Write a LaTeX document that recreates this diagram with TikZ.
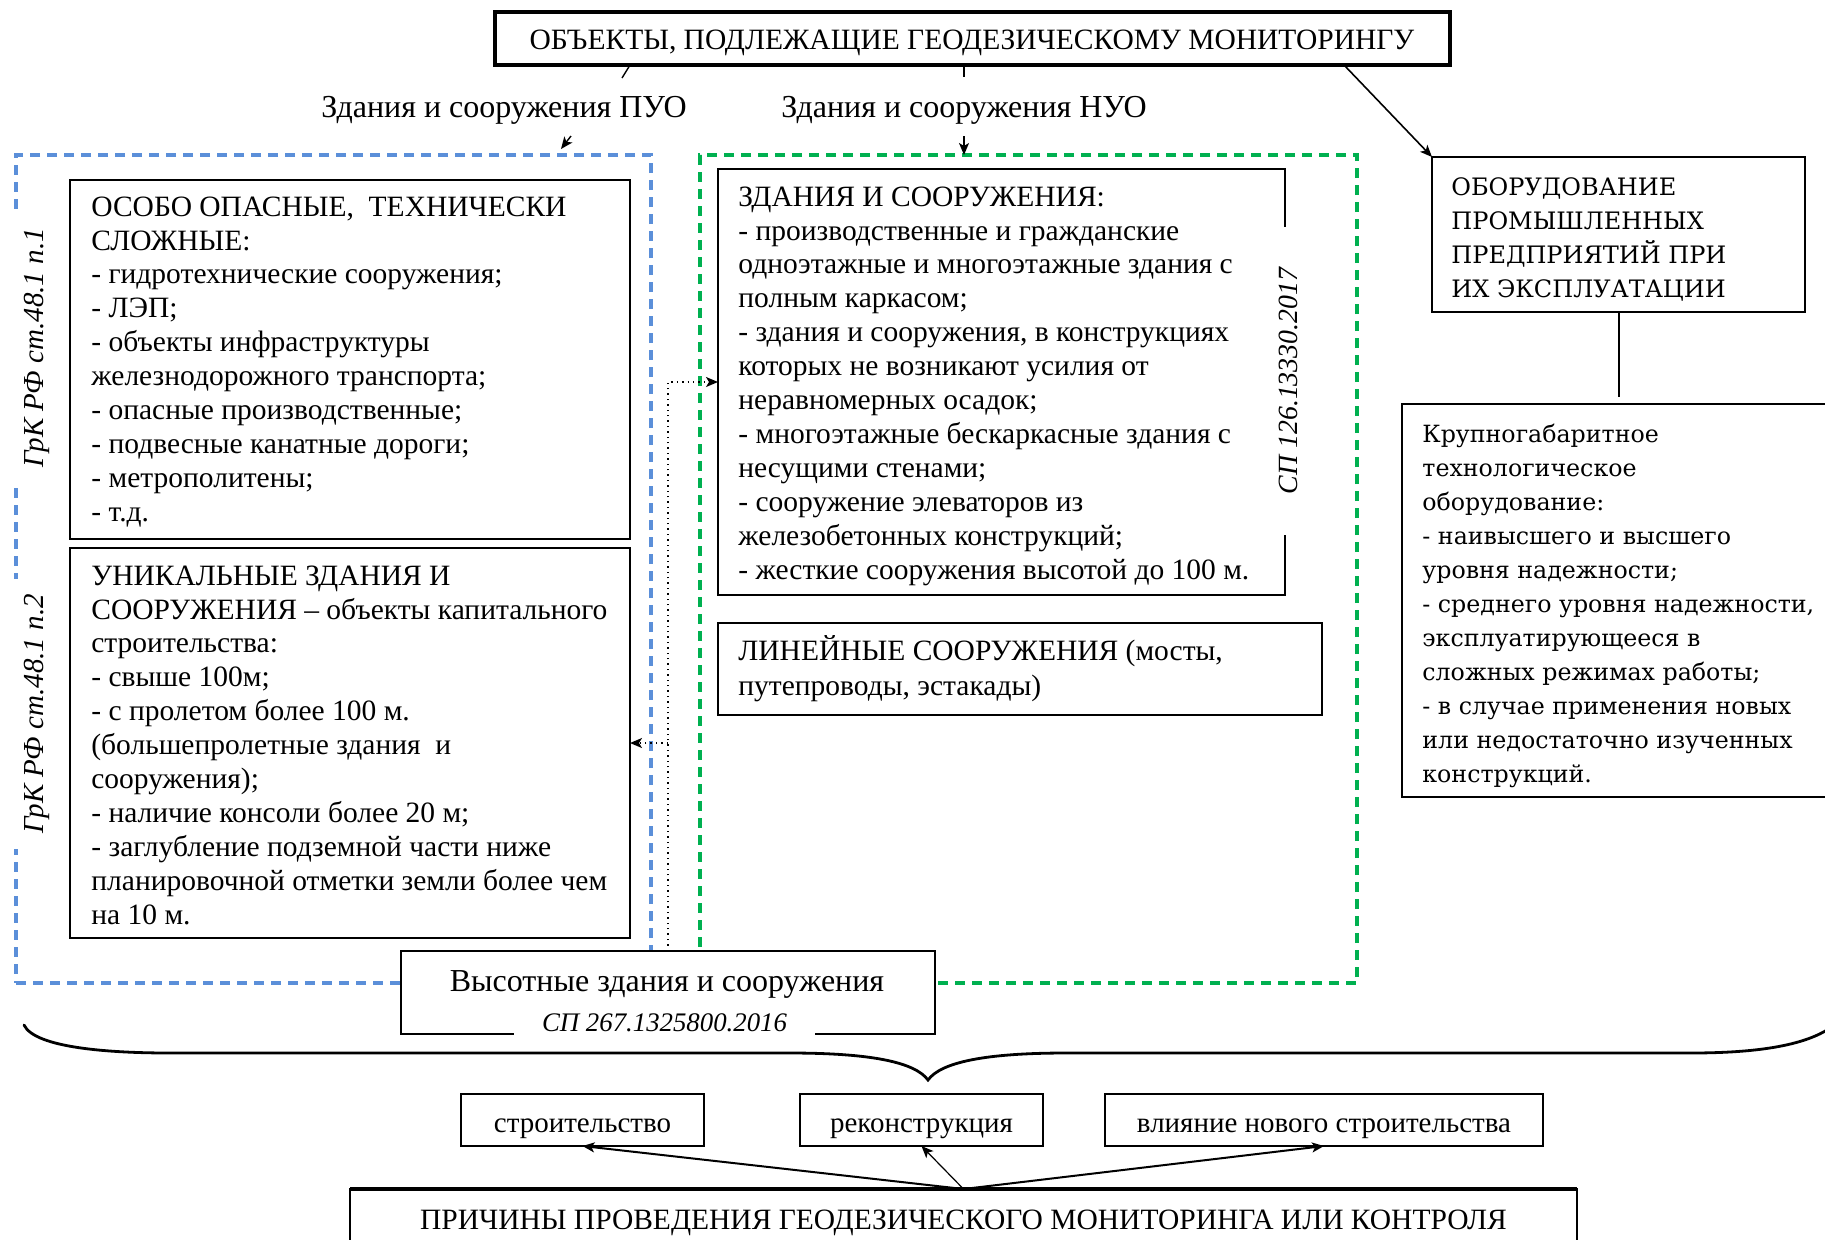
\documentclass[tikz,border=0pt]{standalone}
\usepackage{fontspec}
\setmainfont{Liberation Serif}
\newfontfamily\dvs{DejaVu Serif}
\usetikzlibrary{arrows.meta}
\definecolor{pblue}{HTML}{5B8FD9}
\definecolor{pgreen}{HTML}{00B050}
\begin{document}
\begin{tikzpicture}[x=0.5pt,y=-0.5pt,
  box/.style={draw, line width=1pt, fill=white, inner sep=0pt, outer sep=0pt, anchor=north west},
  frameblue/.style={draw=pblue, line width=1.6pt, dash pattern=on 5pt off 3.5pt, inner sep=0pt, outer sep=0pt, anchor=north west},
  framegreen/.style={draw=pgreen, line width=1.6pt, dash pattern=on 5pt off 3.5pt, inner sep=0pt, outer sep=0pt, anchor=north west},
  txt/.style={anchor=north west, inner sep=0pt, align=left, font=\fontsize{14.75}{16.95}\selectfont},
  dtxt/.style={anchor=north west, inner sep=0pt, align=left, font=\dvs\fontsize{12}{17}\selectfont},
  ctxt/.style={inner sep=0pt, font=\fontsize{14.75}{16.95}\selectfont},
  btxt/.style={inner sep=0pt, font=\fontsize{16}{18}\selectfont},
  rotlabel/.style={rotate=90, fill=white, inner sep=0pt, font=\itshape\fontsize{14.5}{16.95}\selectfont},
  arr/.style={-{Stealth[length=6pt,width=5pt,inset=1.5pt]}},
  dotline/.style={dotted, line width=0.7pt, -{Stealth[length=6pt,width=5pt,inset=1.5pt]}}
]
\useasboundingbox (0,0) rectangle (1825,1239);

% dashed frames
\node[frameblue, minimum width=317.5pt, minimum height=414pt] (pyo) at (16,155) {};
\node[framegreen, minimum width=328.5pt, minimum height=414pt] (nyo) at (700,155) {};

% top box
\node[box, line width=2pt, minimum width=477.5pt, minimum height=26.5pt] (top) at (495,12) {};
\node[ctxt] (toptext) at (972,43) {ОБЪЕКТЫ, ПОДЛЕЖАЩИЕ ГЕОДЕЗИЧЕСКОМУ МОНИТОРИНГУ};

% labels
\node[btxt] (lpyo) at (504,110) {Здания и сооружения ПУО};
\node[btxt] (lnyo) at (964,110) {Здания и сооружения НУО};
\coordinate (c1a) at (630,65);
\coordinate (c1b) at (622,78);
\coordinate (c2a) at (571,136);
\coordinate (c2b) at (561,149);
\coordinate (c3a) at (964,65);
\coordinate (c3b) at (964,77);
\coordinate (c4a) at (964,136);
\coordinate (c5a) at (1344,65);
\draw[line width=0.7pt] (c1a) -- (c1b);
\draw[line width=0.7pt, arr] (c2a) -- (c2b);
\draw[line width=0.7pt] (c3a) -- (c3b);
\draw[line width=0.7pt, arr] (c4a) -- (nyo.north -| c4a);

% left boxes
\node[box, minimum width=280pt, minimum height=179.5pt] (osobo) at (70,180) {};
\node[txt] (osobotext) at (91,192) {\strut ОСОБО ОПАСНЫЕ,\ \ ТЕХНИЧЕСКИ\\ СЛОЖНЫЕ:\\ - гидротехнические сооружения;\\ - ЛЭП;\\ - объекты инфраструктуры\\ железнодорожного транспорта;\\ - опасные производственные;\\ - подвесные канатные дороги;\\ - метрополитены;\\ - т.д.};
\node[box, minimum width=280pt, minimum height=195pt] (unik) at (70,548) {};
\node[txt] (uniktext) at (91,561) {\strut УНИКАЛЬНЫЕ ЗДАНИЯ И\\ СООРУЖЕНИЯ – объекты капитального\\ строительства:\\ - свыше 100м;\\ - с пролетом более 100 м.\\ (большепролетные здания\ \ и\\ сооружения);\\ - наличие консоли более 20 м;\\ - заглубление подземной части ниже\\ планировочной отметки земли более чем\\ на 10 м.};

% middle boxes
\node[box, minimum width=283.5pt, minimum height=213pt] (zd) at (718,169) {};
\node[txt] (zdtext) at (738,182) {\strut ЗДАНИЯ И СООРУЖЕНИЯ:\\ - производственные и гражданские\\ одноэтажные и многоэтажные здания с\\ полным каркасом;\\ - здания и сооружения, в конструкциях\\ которых не возникают усилия от\\ неравномерных осадок;\\ - многоэтажные бескаркасные здания с\\ несущими стенами;\\ - сооружение элеваторов из\\ железобетонных конструкций;\\ - жесткие сооружения высотой до 100 м.};
\node[box, minimum width=302pt, minimum height=46pt] (lin) at (718,623) {};
\node[txt] (lintext) at (738,635) {\strut ЛИНЕЙНЫЕ СООРУЖЕНИЯ (мосты,\\[0.6pt] путепроводы, эстакады)};

% rotated labels
\node[rotlabel, minimum width=137pt, minimum height=32pt] (grk1) at (37,348) {ГрК РФ ст.48.1 п.1};
\node[rotlabel, minimum width=135pt, minimum height=32pt] (grk2) at (37,714) {ГрК РФ ст.48.1 п.2};
\node[rotlabel, font=\itshape\fontsize{13.9}{16}\selectfont, minimum width=154pt, minimum height=24pt] (sp126) at (1288,381) {СП 126.13330.2017};

% right boxes
\node[box, minimum width=186.5pt, minimum height=77.5pt] (obor) at (1432,157) {};
\node[dtxt] (obortext) at (1451,171) {\strut ОБОРУДОВАНИЕ\\ ПРОМЫШЛЕННЫХ\\ ПРЕДПРИЯТИЙ ПРИ\\ ИХ ЭКСПЛУАТАЦИИ};
\node[box, minimum width=219pt, minimum height=196.5pt] (krup) at (1402,404) {};
\node[dtxt, font=\dvs\fontsize{11.85}{17}\selectfont] (kruptext) at (1422,418) {\strut Крупногабаритное\\ технологическое\\ оборудование:\\ - наивысшего и высшего\\ уровня надежности;\\ - среднего уровня надежности,\\ эксплуатирующееся в\\ сложных режимах работы;\\ - в случае применения новых\\ или недостаточно изученных\\ конструкций.};
\draw[line width=0.8pt, arr] (c5a) -- (obor.north west);
\draw[line width=1pt] (obor.south) -- ++(0,85) coordinate (oborend);

% dotted connectors
\coordinate (dv) at (668,382);
\coordinate (dh) at (668,743);
\draw[dotline] (668,951) -- (dv) -- (zd.west |- dv);
\draw[dotline] (dh) -- (unik.east |- dh);

% high-rise box
\node[box, minimum width=267pt, minimum height=41.5pt] (vys) at (401,951) {};
\node[btxt] (vystext) at (667,984.5) {Высотные здания и сооружения};
\node[rotlabel, rotate=-90, font=\itshape\fontsize{13.4}{16}\selectfont, minimum width=150.5pt, minimum height=18pt] (sp267) at (664.5,1023) {СП 267.1325800.2016};

% brace
\draw[line width=1.4pt, line cap=round] (24,1025) .. controls (35,1048) and (110,1053) .. (170,1053) -- (790,1053) .. controls (870,1053) and (915,1062) .. (928,1080) .. controls (941,1062) and (986,1053) .. (1066,1053) -- (1690,1053) .. controls (1760,1053) and (1815,1045) .. (1840,1020);

% bottom boxes
\node[box, minimum width=121.5pt, minimum height=26pt] (str) at (461,1094) {};
\node[ctxt, font=\fontsize{14.5}{16.95}\selectfont] (strtext) at (582.5,1129) {строительство};
\node[box, minimum width=121.5pt, minimum height=26pt] (rek) at (800,1094) {};
\node[ctxt, font=\fontsize{14.5}{16.95}\selectfont] (rektext) at (921.5,1129) {реконструкция};
\node[box, minimum width=219pt, minimum height=26pt] (vli) at (1105,1094) {};
\node[ctxt, font=\fontsize{14.5}{16.95}\selectfont] (vlitext) at (1324,1129) {влияние нового строительства};
\node[box, minimum width=613.5pt, minimum height=40pt] (prich) at (350,1189) {};
\draw[line width=2pt] (prich.north west) -- (prich.north east);
\node[ctxt] (prichtext) at (963.5,1223) {ПРИЧИНЫ ПРОВЕДЕНИЯ ГЕОДЕЗИЧЕСКОГО МОНИТОРИНГА ИЛИ КОНТРОЛЯ};
\draw[line width=1pt, arr] (prich.north) -- (str.south);
\draw[line width=0.6pt, arr] (prich.north) -- (rek.south);
\draw[line width=1pt, arr] (prich.north) -- (vli.south);
\end{tikzpicture}
\end{document}
